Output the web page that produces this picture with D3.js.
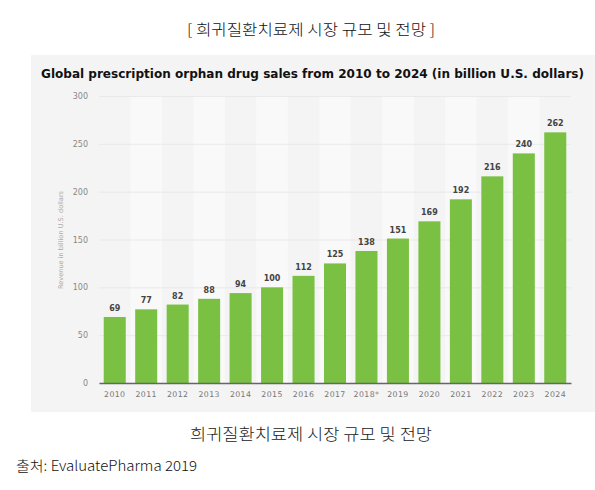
<!DOCTYPE html>
<html>
<head>
<meta charset="utf-8">
<script src="https://cdn.jsdelivr.net/npm/d3@7"></script>
<style>
  body { margin: 0; background: #fff; }
  svg { display: block; }
</style>
</head>
<body>
<svg id="chart" width="595" height="490"></svg>
<script>
const years = ["2010", "2011", "2012", "2013", "2014", "2015", "2016", "2017",
  "2018*", "2019", "2020", "2021", "2022", "2023", "2024"];
const sales = [69, 77, 82, 88, 94, 100, 112, 125, 138, 151, 169, 192, 216, 240, 262];
const yTicks = [0, 50, 100, 150, 200, 250, 300];

const svg = d3.select("#chart");
const kr = "'Noto Sans CJK KR', 'Noto Sans', sans-serif";
const dv = "'DejaVu Sans', sans-serif";

// stretch a text to a given width
const fit = (sel, w) => sel.attr("textLength", w).attr("lengthAdjust", "spacingAndGlyphs");

// header
svg.append("text")
  .attr("x", 187).attr("y", 35)
  .attr("font-family", kr).attr("font-size", 15).attr("font-weight", 300)
  .attr("fill", "#111")
  .text("[ 희귀질환치료제 시장 규모 및 전망 ]")
  .call(fit, 248);

// gray panel
svg.append("rect")
  .attr("x", 31).attr("y", 55).attr("width", 564).attr("height", 357)
  .attr("fill", "#f4f4f4");

const title = svg.append("text")
  .attr("x", 41).attr("y", 78)
  .attr("font-family", "'DejaVu Sans Condensed', 'DejaVu Sans', sans-serif")
  .attr("font-stretch", "condensed")
  .attr("font-weight", "bold").attr("font-size", 12.5)
  .attr("fill", "#111")
  .text("Global prescription orphan drug sales from 2010 to 2024 (in billion U.S. dollars)")
  .call(fit, 543);

const margin = { top: 96, bottom: 383, left: 99, right: 571 };

const x = d3.scaleBand()
  .domain(years)
  .range([margin.left, margin.right])
  .paddingInner(0.3)
  .paddingOuter(0.15);

const y = d3.scaleLinear()
  .domain([0, 300])
  .range([margin.bottom, margin.top]);

// alternate column shading
svg.append("g").selectAll("rect")
  .data(years.filter((d, i) => i % 2 === 1))
  .join("rect")
  .attr("x", (d) => x(d) - x.step() * x.paddingInner() / 2)
  .attr("y", margin.top)
  .attr("width", x.step())
  .attr("height", margin.bottom - margin.top)
  .attr("fill", "#f9f9f9");

// grid + y labels
const yAxis = (g) =>
  g
    .attr("transform", `translate(${margin.left},0)`)
    .call(d3.axisLeft(y).tickValues(yTicks).tickSize(-(margin.right - margin.left)).tickPadding(11))
    .call((g) => g.select(".domain").remove())
    .call((g) => g.selectAll(".tick line").attr("stroke", "#e6e6e6").attr("stroke-width", 0.8))
    .call((g) => g.selectAll(".tick text")
      .attr("font-family", dv).attr("font-size", 8).attr("fill", "#888"));
svg.append("g").call(yAxis);

// bars
svg.append("g").selectAll("rect")
  .data(sales)
  .join("rect")
  .attr("x", (d, i) => x(years[i]))
  .attr("y", (d) => y(d))
  .attr("width", x.bandwidth())
  .attr("height", (d) => y(0) - y(d))
  .attr("fill", "#7ac143");

// value labels
svg.append("g").selectAll("text")
  .data(sales)
  .join("text")
  .attr("x", (d, i) => x(years[i]) + x.bandwidth() / 2)
  .attr("y", (d) => y(d) - 6)
  .attr("text-anchor", "middle")
  .attr("font-family", dv).attr("font-weight", "bold").attr("font-size", 8)
  .attr("fill", "#444")
  .text((d) => d);

// x axis
const xAxis = (g) =>
  g
    .attr("transform", `translate(0,${margin.bottom})`)
    .call(d3.axisBottom(x).tickSize(0).tickPadding(8).tickSizeOuter(0))
    .call((g) => g.select(".domain").attr("stroke", "#666").attr("stroke-width", 1.5))
    .call((g) => g.selectAll(".tick text")
      .attr("font-family", dv).attr("font-size", 7.8).attr("fill", "#777")
      .attr("letter-spacing", 0.4));
svg.append("g").call(xAxis);

// y axis title
svg.append("text")
  .attr("transform", `translate(63,240) rotate(-90)`)
  .attr("text-anchor", "middle")
  .attr("font-family", dv).attr("font-size", 6.6).attr("fill", "#aaa")
  .text("Revenue in billion U.S. dollars");

// caption
svg.append("text")
  .attr("x", 190).attr("y", 440)
  .attr("font-family", kr).attr("font-size", 16).attr("font-weight", 300)
  .attr("fill", "#222")
  .text("희귀질환치료제 시장 규모 및 전망")
  .call(fit, 242);

svg.append("text")
  .attr("x", 16).attr("y", 471)
  .attr("font-family", kr).attr("font-size", 14).attr("font-weight", 300)
  .attr("fill", "#111")
  .text("출처: EvaluatePharma 2019")
  .call(fit, 181);
</script>
</body>
</html>
